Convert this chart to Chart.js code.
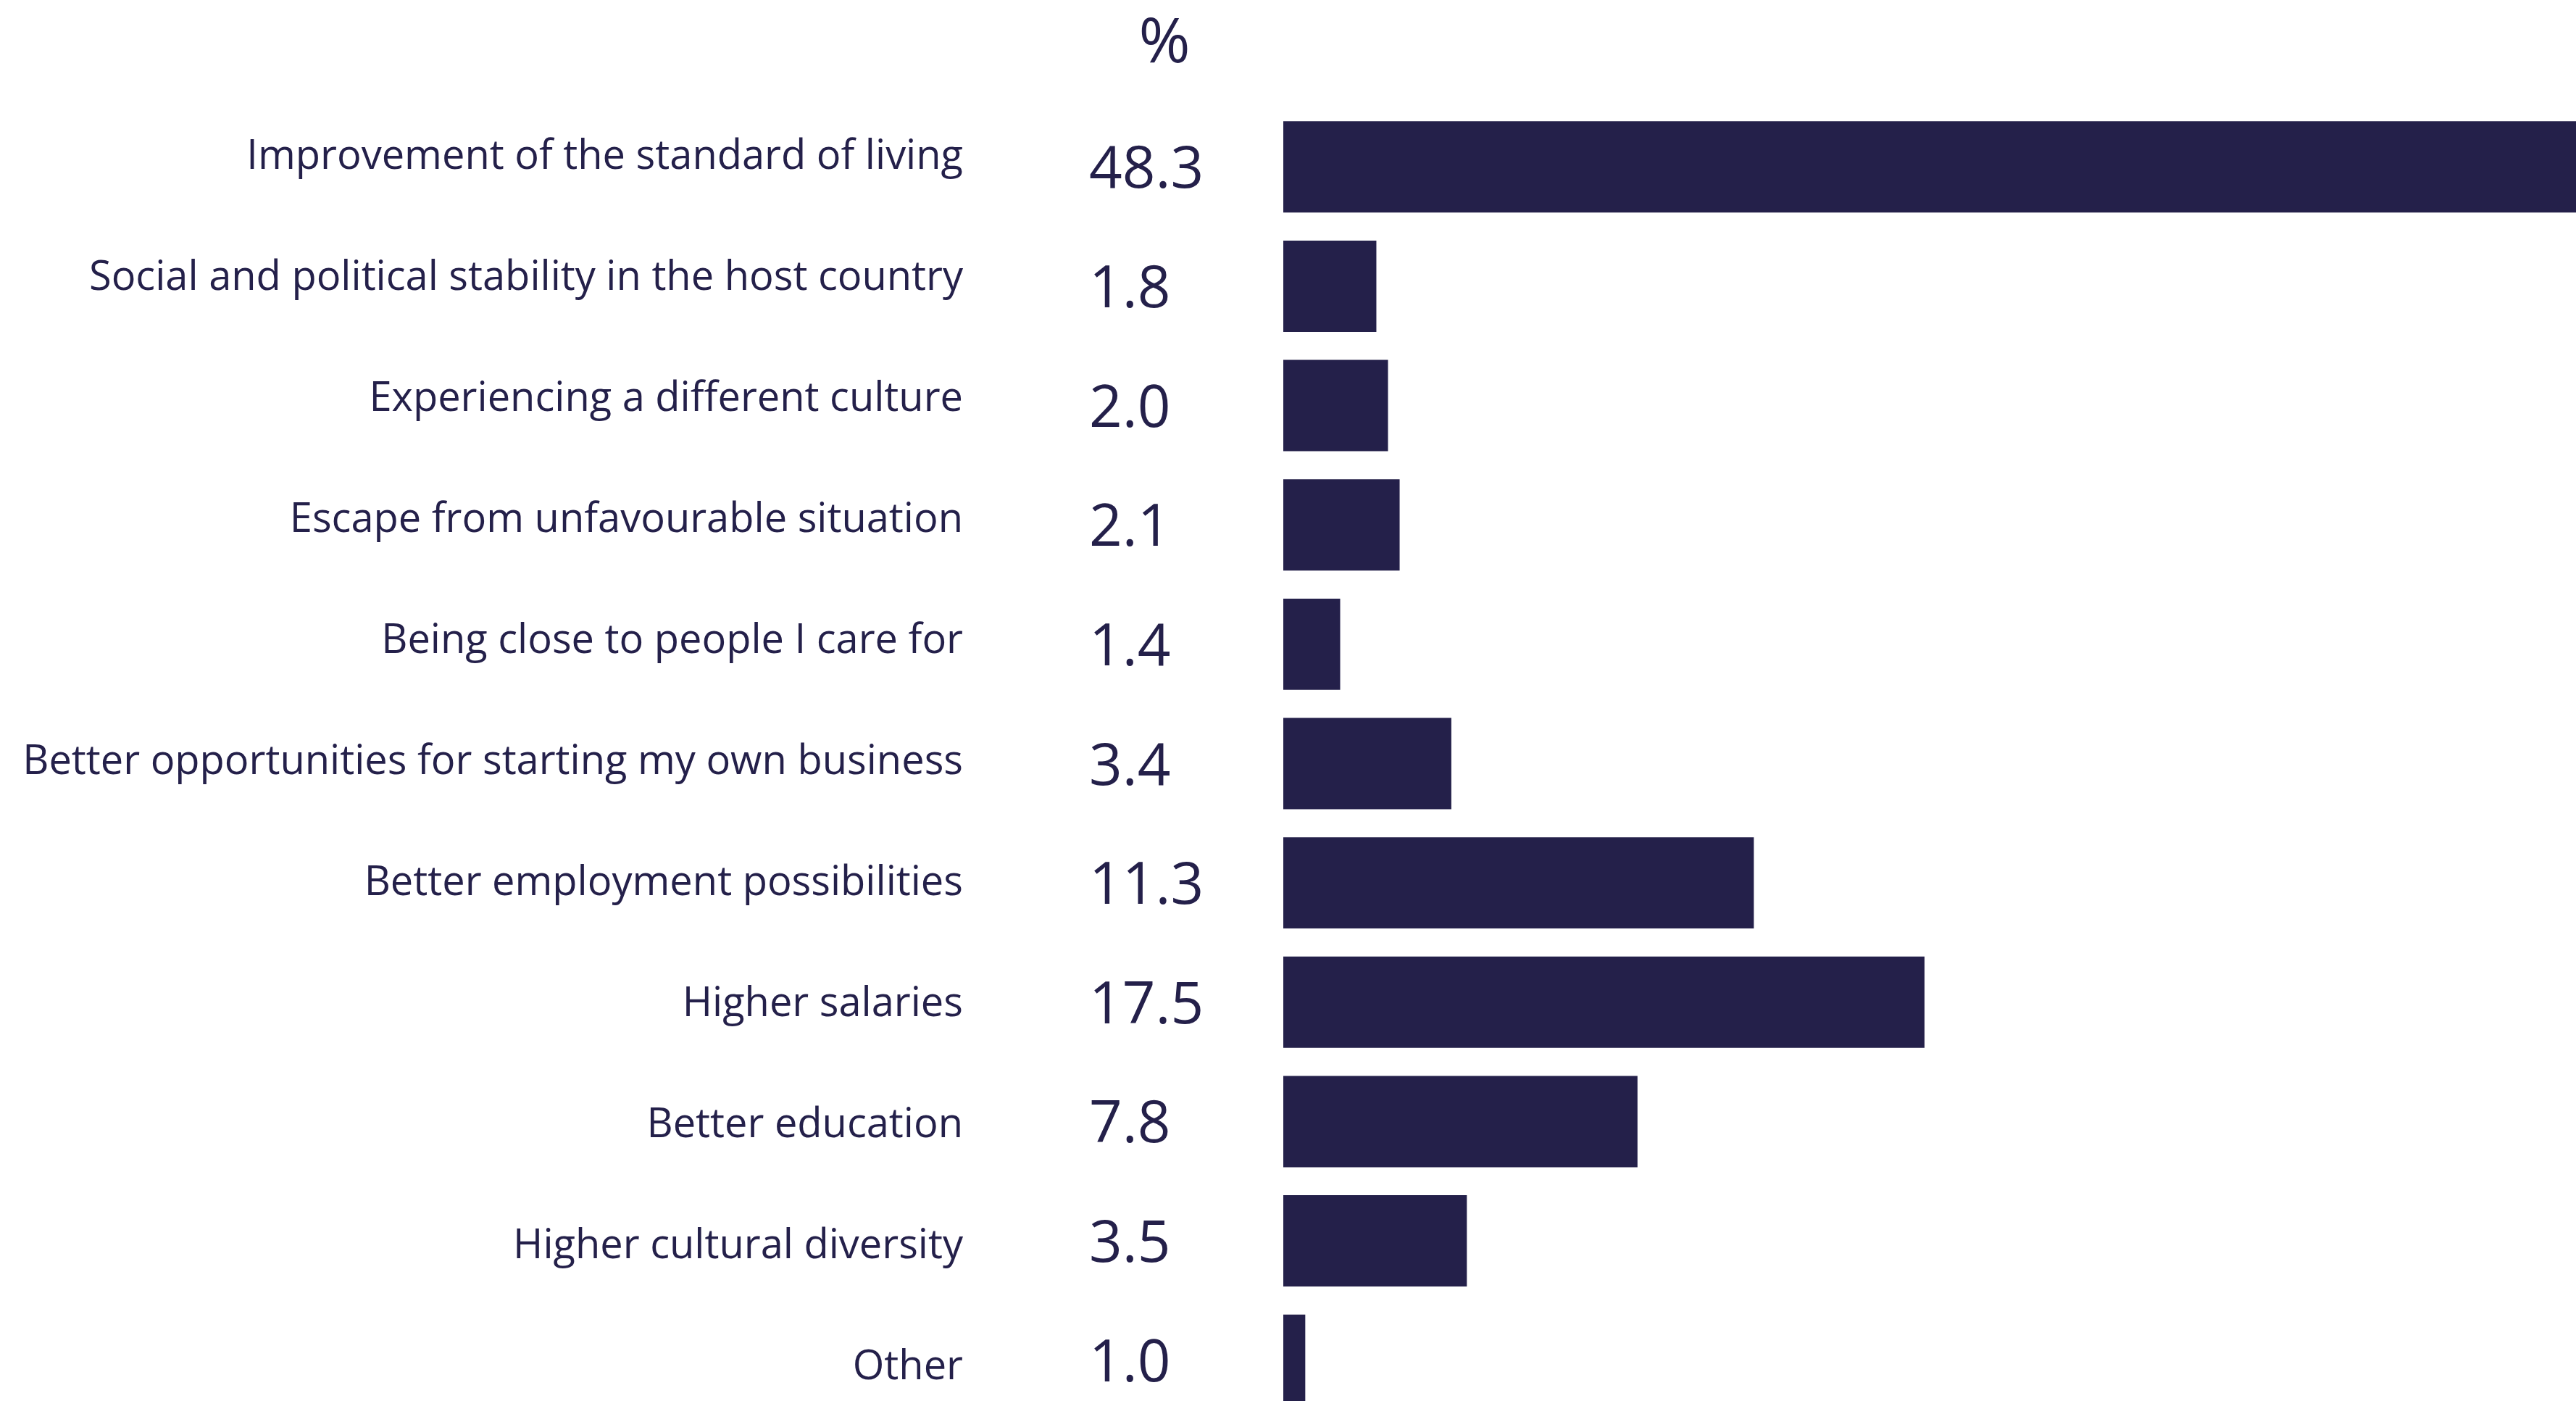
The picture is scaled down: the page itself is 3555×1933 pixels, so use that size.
<!DOCTYPE html>
<html>
<head>
<meta charset="utf-8">
<script src="https://cdn.jsdelivr.net/npm/chart.js@4/dist/chart.umd.min.js"></script>
<style>
html, body { margin: 0; padding: 0; background: #ffffff; overflow: hidden; }
#wrap { position: relative; width: 3555px; height: 2100px; }
</style>
</head>
<body>
<div id="wrap"><canvas id="c" width="3555" height="2100"></canvas></div>
<script>
// Categories (top to bottom)
const categories = [
  'Improvement of the standard of living',
  'Social and political stability in the host country',
  'Experiencing a different culture',
  'Escape from unfavourable situation',
  'Being close to people I care for',
  'Better opportunities for starting my own business',
  'Better employment possibilities',
  'Higher salaries',
  'Better education',
  'Higher cultural diversity',
  'Other'
];
// Printed values (%)
const shares = [48.3, 1.8, 2.0, 2.1, 1.4, 3.4, 11.3, 17.5, 7.8, 3.5, 1.0];
// Bar lengths (share of the visible plot width, 0-100)
const barLengths = [100, 7.2, 8.1, 9.0, 4.4, 13.0, 36.4, 49.6, 27.4, 14.2, 1.7];
const unitLabel = '%';

const INK = '#24204a';
const LABEL_MIN = -0.413;
const LABEL_MAX = 10.431;

const valuePlugin = {
  id: 'valueColumn',
  afterDatasetsDraw(chart) {
    const { ctx, chartArea } = chart;
    const y = chart.scales.y;
    ctx.save();
    ctx.fillStyle = INK;
    ctx.font = '80px "Open Sans"';
    ctx.textAlign = 'left';
    ctx.textBaseline = 'alphabetic';
    shares.forEach((v, i) => {
      const py = y.getPixelForValue(i);
      ctx.fillText(v.toFixed(1), chartArea.left - 268, py + 29);
    });
    ctx.font = '86px "Open Sans"';
    ctx.textAlign = 'center';
    ctx.fillText(unitLabel, chartArea.left - 164, 86);
    ctx.restore();
  }
};

function fixRange(s) { s.min = LABEL_MIN; s.max = LABEL_MAX; }

function draw() {
  const ctx = document.getElementById('c').getContext('2d');
  new Chart(ctx, {
    type: 'bar',
    data: {
      labels: categories,
      datasets: [{
        data: barLengths,
        backgroundColor: INK,
        borderWidth: 0,
        barPercentage: 0.765,
        categoryPercentage: 1
      }]
    },
    options: {
      indexAxis: 'y',
      responsive: false,
      maintainAspectRatio: false,
      animation: false,
      layout: { padding: { top: 148, bottom: 141, left: 0, right: 0 } },
      scales: {
        x: { display: false, min: 0, max: 100 },
        y: { display: false, offset: true },
        yl: {
          type: 'linear',
          position: 'left',
          reverse: true,
          offset: false,
          bounds: 'data',
          min: LABEL_MIN,
          max: LABEL_MAX,
          afterDataLimits: fixRange,
          afterBuildTicks: (s) => {
            fixRange(s);
            s.ticks = categories.map((_, i) => ({ value: i }));
          },
          afterFit: (s) => { s.width = 1771; s.paddingTop = 0; s.paddingBottom = 0; },
          grid: { display: false, drawTicks: false, offset: false },
          border: { display: false },
          ticks: {
            autoSkip: false,
            padding: 442,
            color: INK,
            font: { family: 'Open Sans', size: 56 },
            callback: (v, i) => categories[i]
          }
        }
      },
      plugins: {
        legend: { display: false },
        tooltip: { enabled: false },
        title: { display: false }
      }
    },
    plugins: [valuePlugin]
  });
}

if (document.fonts && document.fonts.load) {
  Promise.all([
    document.fonts.load('56px "Open Sans"'),
    document.fonts.load('80px "Open Sans"')
  ]).then(draw, draw);
} else {
  draw();
}
</script>
</body>
</html>
